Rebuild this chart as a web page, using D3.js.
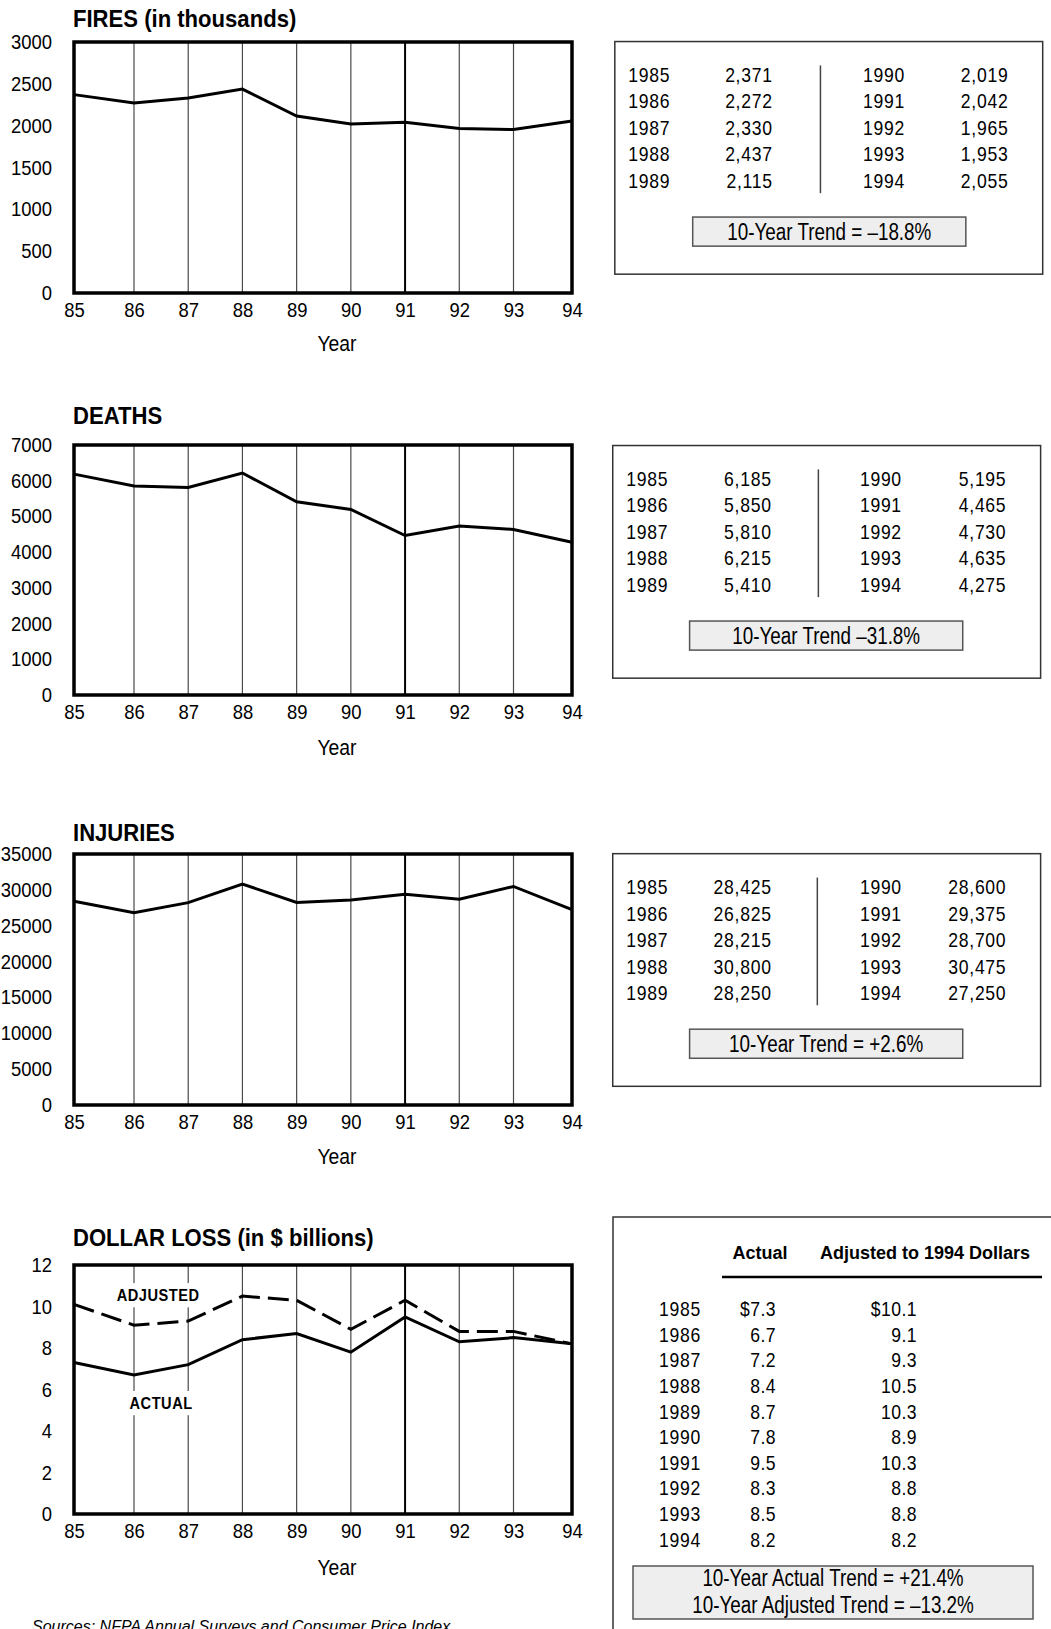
<!DOCTYPE html>
<html><head><meta charset="utf-8">
<script src="https://cdn.jsdelivr.net/npm/d3@7"></script>
<style>
body{margin:0;background:#fff;}
svg{display:block;}
</style></head><body>
<svg id="c" width="1051" height="1629"></svg>
<script>
// ---------- DATA ----------
const years = [1985,1986,1987,1988,1989,1990,1991,1992,1993,1994];
const yearTickLabels = ["85","86","87","88","89","90","91","92","93","94"];
const fires = [2371,2272,2330,2437,2115,2019,2042,1965,1953,2055];
const deaths = [6185,5850,5810,6215,5410,5195,4465,4730,4635,4275];
const injuries = [28425,26825,28215,30800,28250,28600,29375,28700,30475,27250];
const lossActual = [7.3,6.7,7.2,8.4,8.7,7.8,9.5,8.3,8.5,8.2];
const lossAdjusted = [10.1,9.1,9.3,10.5,10.3,8.9,10.3,8.8,8.8,8.2];
const firesTicks = [0,500,1000,1500,2000,2500,3000];
const deathsTicks = [0,1000,2000,3000,4000,5000,6000,7000];
const injuriesTicks = [0,5000,10000,15000,20000,25000,30000,35000];
const lossTicks = [0,2,4,6,8,10,12];
const panelTitles = ["FIRES (in thousands)","DEATHS","INJURIES","DOLLAR LOSS (in $ billions)"];
const trendTexts = ["10-Year Trend = \u201318.8%","10-Year Trend \u201331.8%","10-Year Trend = +2.6%"];
const lossTrendTexts = ["10-Year Actual Trend = +21.4%","10-Year Adjusted Trend = \u201313.2%"];
const lossHeaders = ["Actual","Adjusted to 1994 Dollars"];
const seriesLabels = ["ADJUSTED","ACTUAL"];
const xAxisTitle = "Year";
const sourceText = "Sources:  NFPA Annual Surveys and Consumer Price Index";

// ---------- LAYOUT ----------
const svg = d3.select("#c");
const K = 1051/1012;
const FONT = '"Liberation Sans", Arial, Helvetica, sans-serif';
const TABLE_SX = 0.88;    // horizontal condensing of table text
const TREND_SX = 0.82;
const TICK_SX = 0.9;
const FRAME_L = 74, FRAME_R = 572, FIRST_GAP = 60, LAST_GAP = 58.5;

// condense text horizontally, keeping it as text
function squeeze(sel, s) {
  sel.each(function() {
    const t = d3.select(this);
    const x = +t.attr("x") || 0, y = +t.attr("y") || 0;
    t.attr("x", null).attr("y", null).attr("transform", `translate(${x},${y}) scale(${s},1)`);
  });
  return sel;
}

const x = d3.scaleLinear()
  .domain([years[0], years[1], years[years.length-2], years[years.length-1]])
  .range([FRAME_L, FRAME_L + FIRST_GAP, FRAME_R - LAST_GAP, FRAME_R]);

const panels = [
  {title: panelTitles[0], ticks: firesTicks, series: [{values: fires}], top: 42, bottom: 293, titleY: 27, yearY: 351},
  {title: panelTitles[1], ticks: deathsTicks, series: [{values: deaths}], top: 445, bottom: 695, titleY: 424, yearY: 755},
  {title: panelTitles[2], ticks: injuriesTicks, series: [{values: injuries}], top: 854, bottom: 1105, titleY: 841, yearY: 1164},
  {title: panelTitles[3], ticks: lossTicks, series: [{values: lossAdjusted, dash: "21,8"}, {values: lossActual}], top: 1265, bottom: 1514, titleY: 1246, yearY: 1575,
   labels: [{text: seriesLabels[0], v: 10.55, dx: -3}, {text: seriesLabels[1], v: 5.35, dx: 0}]}
];

panels.forEach(p => {
  const y = d3.scaleLinear().domain([0, d3.max(p.ticks)]).range([p.bottom, p.top]);
  const g = svg.append("g");

  squeeze(g.append("text").attr("x", 73).attr("y", p.titleY)
    .attr("font-family", FONT).attr("font-weight", "bold").attr("font-size", 23.5)
    .text(p.title), 0.94);

  g.selectAll("line.grid").data(years.slice(1, -1)).join("line").attr("class", "grid")
    .attr("x1", d => x(d)).attr("x2", d => x(d))
    .attr("y1", p.top).attr("y2", p.bottom)
    .attr("stroke", d => d === 1991 ? "#000" : "#4a4a4a")
    .attr("stroke-width", d => d === 1991 ? 2 : 1.2);

  if (p.labels) {
    const lx = (x(years[1]) + x(years[2])) / 2;
    p.labels.forEach(l => {
      const lg = g.append("g").attr("transform", `translate(${lx + l.dx},${y(l.v) + 6})`);
      const s = 0.86;
      const t = lg.append("text").attr("text-anchor", "middle").attr("font-family", FONT)
        .attr("font-weight", "bold").attr("font-size", 17).attr("letter-spacing", 0.6)
        .attr("transform", `scale(${s},1)`)
        .text(l.text);
      const bb = t.node().getBBox();
      lg.insert("rect", "text").attr("x", bb.x * s - 4).attr("y", bb.y - 3)
        .attr("width", bb.width * s + 8).attr("height", bb.height + 6).attr("fill", "#fff");
    });
  }

  p.series.forEach(s => {
    const line = d3.line().x((d, i) => x(years[i])).y(d => y(d));
    g.append("path").datum(s.values).attr("d", line)
      .attr("fill", "none").attr("stroke", "#000").attr("stroke-width", 3)
      .attr("stroke-dasharray", s.dash || null);
  });

  g.append("rect").attr("x", FRAME_L).attr("y", p.top)
    .attr("width", FRAME_R - FRAME_L).attr("height", p.bottom - p.top)
    .attr("fill", "none").attr("stroke", "#000").attr("stroke-width", 3.5);

  const ya = g.append("g").attr("transform", `translate(${FRAME_L},0)`)
    .call(d3.axisLeft(y).tickValues(p.ticks).tickSize(0).tickPadding(22).tickFormat(d3.format("d")));
  ya.select(".domain").remove();
  squeeze(ya.selectAll("text").attr("font-family", FONT).attr("font-size", 20.5).attr("fill", "#000"), TICK_SX);

  const xa = g.append("g").attr("transform", `translate(0,${p.bottom})`)
    .call(d3.axisBottom(x).tickValues(years).tickSize(0).tickPadding(9).tickFormat((d, i) => yearTickLabels[i]));
  xa.select(".domain").remove();
  squeeze(xa.selectAll("text").attr("font-family", FONT).attr("font-size", 20.5).attr("fill", "#000"), TICK_SX);

  squeeze(g.append("text").attr("x", (FRAME_L + FRAME_R) / 2 + 14).attr("y", p.yearY)
    .attr("text-anchor", "middle").attr("font-family", FONT).attr("font-size", 21.5)
    .text(xAxisTitle), 0.9);
});

// ---------- TABLES ----------
const fmt = d3.format(",");
const tables = [
  {data: fires, box: [592, 40, 1004, 264], row0: 72, step: 25.5, cols: [605, 744, 790, 831, 971], sep: [63, 186], trend: [667, 209, 930, 237], text: trendTexts[0]},
  {data: deaths, box: [590, 429, 1002, 653], row0: 461, step: 25.5, cols: [603, 743, 788, 828, 969], sep: [452, 575], trend: [664, 598, 927, 626], text: trendTexts[1]},
  {data: injuries, box: [590, 822, 1002, 1046], row0: 854, step: 25.5, cols: [603, 743, 787, 828, 969], sep: [845, 968], trend: [664, 991, 927, 1019], text: trendTexts[2]}
];

function box(g, b, fill, stroke, sw) {
  g.append("rect").attr("x", b[0] * K).attr("y", b[1] * K)
    .attr("width", (b[2] - b[0]) * K).attr("height", (b[3] - b[1]) * K)
    .attr("fill", fill).attr("stroke", stroke).attr("stroke-width", sw);
}

tables.forEach(t => {
  const g = svg.append("g").attr("font-family", FONT).attr("font-size", 20);
  box(g, t.box, "#fff", "#333", 1.5);
  g.append("line").attr("x1", t.cols[2] * K).attr("x2", t.cols[2] * K)
    .attr("y1", t.sep[0] * K).attr("y2", t.sep[1] * K)
    .attr("stroke", "#444").attr("stroke-width", 1.5);
  const rows = t.data.map((v, i) => ({year: years[i], v, col: Math.floor(i / 5), r: i % 5}));
  const rowY = d => (t.row0 + d.r * t.step) * K + 7.2;
  squeeze(g.selectAll("text.yr").data(rows).join("text").attr("class", "yr")
    .attr("x", d => t.cols[d.col === 0 ? 0 : 3] * K).attr("y", rowY).attr("letter-spacing", 0.8)
    .text(d => d.year), TABLE_SX);
  squeeze(g.selectAll("text.val").data(rows).join("text").attr("class", "val")
    .attr("x", d => t.cols[d.col === 0 ? 1 : 4] * K).attr("y", rowY).attr("letter-spacing", 0.8)
    .attr("text-anchor", "end").text(d => fmt(d.v)), TABLE_SX);
  box(g, t.trend, "#eeeeee", "#555", 1.5);
  squeeze(g.append("text").attr("x", (t.trend[0] + t.trend[2]) / 2 * K).attr("y", (t.trend[1] + t.trend[3]) / 2 * K + 8.3)
    .attr("text-anchor", "middle").attr("font-size", 23).text(t.text), TREND_SX);
});

// Dollar loss table
{
  const g = svg.append("g").attr("font-family", FONT).attr("font-size", 20);
  g.append("rect").attr("x", 613).attr("y", 1217).attr("width", 460).attr("height", 440)
    .attr("fill", "#fff").attr("stroke", "#333").attr("stroke-width", 1.5);
  g.append("text").attr("x", 760).attr("y", 1259).attr("text-anchor", "middle")
    .attr("font-weight", "bold").attr("font-size", 18).text(lossHeaders[0]);
  g.append("text").attr("x", 820).attr("y", 1259)
    .attr("font-weight", "bold").attr("font-size", 18).text(lossHeaders[1]);
  g.append("line").attr("x1", 722).attr("x2", 1042).attr("y1", 1277).attr("y2", 1277)
    .attr("stroke", "#000").attr("stroke-width", 2.5);
  const f1 = d3.format(".1f");
  const rows = years.map((yr, i) => ({yr, a: lossActual[i], j: lossAdjusted[i], i}));
  const ry = d => 1309 + d.i * 25.6 + 7.2;
  squeeze(g.selectAll("text.yr").data(rows).join("text").attr("class", "yr")
    .attr("x", 659).attr("y", ry).attr("letter-spacing", 0.8).text(d => d.yr), TABLE_SX);
  squeeze(g.selectAll("text.a").data(rows).join("text").attr("class", "a")
    .attr("x", 776).attr("y", ry).attr("text-anchor", "end").attr("letter-spacing", 0.5)
    .text(d => (d.i === 0 ? "$" : "") + f1(d.a)), TABLE_SX);
  squeeze(g.selectAll("text.j").data(rows).join("text").attr("class", "j")
    .attr("x", 917).attr("y", ry).attr("text-anchor", "end").attr("letter-spacing", 0.5)
    .text(d => (d.i === 0 ? "$" : "") + f1(d.j)), TABLE_SX);
  g.append("rect").attr("x", 633).attr("y", 1566).attr("width", 400).attr("height", 53)
    .attr("fill", "#eeeeee").attr("stroke", "#555").attr("stroke-width", 1.5);
  lossTrendTexts.forEach((tx, i) => {
    squeeze(g.append("text").attr("x", 833).attr("y", 1578 + i * 27 + 8.3)
      .attr("text-anchor", "middle").attr("font-size", 23).text(tx), TREND_SX);
  });
}

svg.append("text").attr("x", 32).attr("y", 1632)
  .attr("font-family", FONT).attr("font-style", "italic").attr("font-size", 16)
  .text(sourceText);
</script>
</body></html>
